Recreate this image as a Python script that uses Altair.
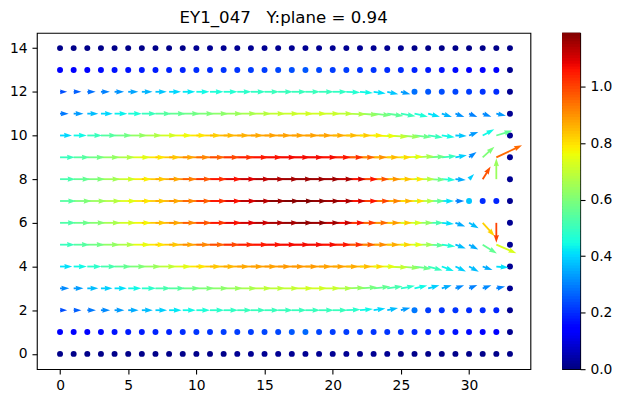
import math
import altair as alt
import pandas as pd

TITLE = "EY1_047\u00a0\u00a0\u00a0Y:plane = 0.94"
X_COLS = list(range(34))
Y_ROWS = list(range(15))

# colour magnitude per row (column 0..33)
c_y0 = [0.01, 0.01, 0.01, 0.01, 0.01, 0.01, 0.01, 0.01, 0.01, 0.01, 0.01, 0.01, 0.01, 0.02, 0.02, 0.02, 0.02, 0.02,
        0.02, 0.02, 0.02, 0.02, 0.02, 0.02, 0.02, 0.01, 0.01, 0.01, 0.01, 0.01, 0.01, 0.01, 0.01, 0.01]
c_y1 = [0.13, 0.14, 0.15, 0.16, 0.17, 0.18, 0.18, 0.19, 0.19, 0.20, 0.21, 0.21, 0.22, 0.22, 0.22, 0.23, 0.23, 0.25,
        0.27, 0.23, 0.22, 0.22, 0.22, 0.21, 0.21, 0.21, 0.20, 0.19, 0.18, 0.17, 0.16, 0.15, 0.14, 0.02]
c_y2 = [0.24, 0.26, 0.29, 0.31, 0.33, 0.35, 0.37, 0.39, 0.42, 0.44, 0.46, 0.48, 0.49, 0.50, 0.50, 0.50, 0.50, 0.50,
        0.50, 0.50, 0.50, 0.48, 0.44, 0.40, 0.37, 0.33, 0.29, 0.22, 0.21, 0.21, 0.20, 0.20, 0.19, 0.02]
c_y3 = [0.31, 0.33, 0.37, 0.39, 0.41, 0.44, 0.48, 0.52, 0.54, 0.58, 0.60, 0.62, 0.64, 0.66, 0.69, 0.69, 0.70, 0.72,
        0.72, 0.71, 0.67, 0.63, 0.59, 0.56, 0.52, 0.48, 0.44, 0.39, 0.35, 0.31, 0.30, 0.31, 0.30, 0.02]
c_y4 = [0.41, 0.44, 0.48, 0.52, 0.56, 0.60, 0.64, 0.69, 0.74, 0.79, 0.83, 0.85, 0.87, 0.88, 0.88, 0.89, 0.89, 0.89,
        0.88, 0.88, 0.87, 0.85, 0.81, 0.75, 0.70, 0.63, 0.57, 0.50, 0.43, 0.39, 0.37, 0.35, 0.41, 0.02]
c_y5 = [0.50, 0.54, 0.58, 0.63, 0.67, 0.75, 0.79, 0.83, 0.87, 0.91, 0.95, 0.99, 1.03, 1.05, 1.06, 1.07, 1.07, 1.07,
        1.07, 1.06, 1.03, 0.97, 0.91, 0.87, 0.82, 0.75, 0.65, 0.55, 0.46, 0.37, 0.35, 0.56, 0.73, 0.02]
c_y6 = [0.53, 0.57, 0.61, 0.66, 0.72, 0.77, 0.83, 0.87, 0.91, 0.97, 1.01, 1.06, 1.09, 1.11, 1.14, 1.15, 1.17, 1.18,
        1.16, 1.12, 1.07, 1.01, 0.95, 0.89, 0.83, 0.73, 0.63, 0.52, 0.41, 0.35, 0.37, 0.82, 1.00, 0.02]
c_y7 = [0.54, 0.60, 0.64, 0.68, 0.74, 0.79, 0.83, 0.87, 0.91, 0.96, 1.02, 1.06, 1.10, 1.13, 1.16, 1.18, 1.19, 1.18,
        1.17, 1.15, 1.11, 1.06, 1.00, 0.92, 0.86, 0.80, 0.68, 0.56, 0.41, 0.30, 0.38, 0.20, 0.19, 0.02]
c_y8 = [0.52, 0.56, 0.60, 0.65, 0.71, 0.78, 0.83, 0.87, 0.92, 0.97, 1.02, 1.06, 1.09, 1.12, 1.14, 1.15, 1.16, 1.16,
        1.16, 1.15, 1.11, 1.06, 0.98, 0.90, 0.84, 0.79, 0.68, 0.58, 0.46, 0.35, 0.39, 0.98, 0.64, 0.02]
c_y9 = [0.50, 0.54, 0.58, 0.63, 0.67, 0.74, 0.79, 0.83, 0.87, 0.91, 0.95, 0.99, 1.02, 1.05, 1.06, 1.07, 1.07, 1.07,
        1.07, 1.06, 1.03, 0.96, 0.90, 0.85, 0.81, 0.75, 0.66, 0.58, 0.50, 0.39, 0.31, 0.60, 0.95, 0.02]
c_y10 = [0.40, 0.44, 0.50, 0.54, 0.58, 0.63, 0.67, 0.72, 0.76, 0.79, 0.82, 0.85, 0.86, 0.87, 0.88, 0.88, 0.88, 0.88,
         0.88, 0.87, 0.85, 0.83, 0.79, 0.76, 0.70, 0.64, 0.57, 0.50, 0.44, 0.38, 0.33, 0.44, 0.56, 0.02]
c_y11 = [0.29, 0.33, 0.37, 0.40, 0.43, 0.46, 0.50, 0.54, 0.56, 0.58, 0.60, 0.62, 0.64, 0.66, 0.68, 0.70, 0.71, 0.72,
         0.72, 0.71, 0.69, 0.67, 0.63, 0.59, 0.55, 0.50, 0.46, 0.41, 0.36, 0.32, 0.30, 0.31, 0.33, 0.02]
c_y12 = [0.24, 0.26, 0.28, 0.30, 0.32, 0.34, 0.36, 0.38, 0.40, 0.42, 0.44, 0.46, 0.47, 0.48, 0.49, 0.50, 0.50, 0.50,
         0.50, 0.50, 0.49, 0.47, 0.44, 0.41, 0.38, 0.33, 0.28, 0.25, 0.24, 0.23, 0.22, 0.21, 0.20, 0.02]
c_y13 = [0.13, 0.14, 0.15, 0.16, 0.17, 0.17, 0.18, 0.18, 0.19, 0.19, 0.20, 0.20, 0.21, 0.21, 0.22, 0.22, 0.23, 0.24,
         0.25, 0.23, 0.22, 0.22, 0.21, 0.21, 0.20, 0.20, 0.19, 0.18, 0.17, 0.16, 0.15, 0.14, 0.13, 0.02]
c_y14 = [0.01, 0.01, 0.01, 0.01, 0.01, 0.01, 0.01, 0.01, 0.01, 0.01, 0.02, 0.02, 0.02, 0.02, 0.02, 0.02, 0.02, 0.02,
         0.02, 0.02, 0.02, 0.02, 0.02, 0.02, 0.02, 0.02, 0.01, 0.01, 0.01, 0.01, 0.01, 0.01, 0.01, 0.01]

# in-plane direction in degrees (counter-clockwise from +x) per row
a_zero = [0, 0, 0, 0, 0, 0, 0, 0, 0, 0, 0, 0, 0, 0, 0, 0, 0, 0, 0, 0, 0, 0, 0, 0, 0, 0, 0, 0, 0, 0, 0, 0, 0, 0]
a_y2 = [0, 0, 0, 0, 0, 0, 0, 0, 0, 0, 0, 0, 0, 0, 0, 0, 0, 0, 0, 0, 0, 3, 5, 8, 12, 15, 0, 0, 0, 0, 0, 0, 0, 0]
a_y3 = [0, 0, 0, 0, 0, 0, 0, 0, 0, 0, 0, 0, 0, 0, 0, 0, 0, 0, 0, 0, 0, 2, 4, 6, 8, 10, 13, 15, 18, 20, 22, 20, 12, 0]
a_y4 = [0, 0, 0, 0, 0, 0, 0, 0, 0, 0, 0, 0, 0, 0, 0, 0, 0, 0, 0, 0, 0, 0, 0, 0, -3, -5, -8, -15, -20, -25, -28, -20, -5, 0]
a_y5 = [0, 0, 0, 0, 0, 0, 0, 0, 0, 0, 0, 0, 0, 0, 0, 0, 0, 0, 0, 0, 0, 0, 0, 0, 0, 0, 0, -3, -8, -20, -28, -32, -23, 0]
a_y6 = [0, 0, 0, 0, 0, 0, 0, 0, 0, 0, 0, 0, 0, 0, 0, 0, 0, 0, 0, 0, 0, 0, 0, 0, 0, 0, 0, 0, -5, -20, -30, -48, -90, 0]
a_y8 = [0, 0, 0, 0, 0, 0, 0, 0, 0, 0, 0, 0, 0, 0, 0, 0, 0, 0, 0, 0, 0, 0, 0, 0, 0, 0, 0, -2, -3, -5, 45, 58, 90, 0]
a_y9 = [0, 0, 0, 0, 0, 0, 0, 0, 0, 0, 0, 0, 0, 0, 0, 0, 0, 0, 0, 0, 0, 0, 0, 0, 0, 2, 3, 3, 5, 10, 36, 42, 25, 0]
a_y10 = [0, 0, 0, 0, 0, 0, 0, 0, 0, 0, 0, 0, 0, 0, 0, 0, 0, 0, 0, 0, 0, 0, 0, -2, -4, -5, -6, -8, -8, -3, 20, 28, 17, 0]
a_y11 = [0, 0, 0, 0, 0, 0, 0, 0, 0, 0, 0, 0, 0, 0, 0, 0, 0, 0, 0, 0, 0, -2, -4, -6, -8, -10, -13, -15, -18, -20, -22, -20, -12, 0]
a_y12 = [0, 0, 0, 0, 0, 0, 0, 0, 0, 0, 0, 0, 0, 0, 0, 0, 0, 0, 0, 0, 0, -3, -5, -8, -12, -15, 0, 0, 0, 0, 0, 0, 0, 0]

# first column drawn as a dot (no in-plane vector) in each row
dot_from = [0, 0, 26, 33, 33, 33, 33, 30, 33, 33, 33, 33, 26, 0, 0]
# in-plane speed where it differs from the colour magnitude: (row, col, speed)
speed_fix = [(8, 30, 0.24), (8, 31, 0.50), (8, 32, 0.70), (9, 31, 0.53), (6, 31, 0.60), (6, 32, 0.67)]

C_ROWS = [c_y0, c_y1, c_y2, c_y3, c_y4, c_y5, c_y6, c_y7, c_y8, c_y9, c_y10, c_y11, c_y12, c_y13, c_y14]
A_ROWS = [a_zero, a_zero, a_y2, a_y3, a_y4, a_y5, a_y6, a_zero, a_y8, a_y9, a_y10, a_y11, a_y12, a_zero, a_zero]

CMAX = 1.19
CB_TICKS = [0.0, 0.2, 0.4, 0.6, 0.8, 1.0]
X_TICKS = [0, 5, 10, 15, 20, 25, 30]
Y_TICKS = [0, 2, 4, 6, 8, 10, 12, 14]

# ---- layout / styling ----
W, H = 496, 338
X_DOM = [-1.7, 34.5]
Y_DOM = [-0.7, 14.7]
PX_X = W / (X_DOM[1] - X_DOM[0])
PX_Y = H / (Y_DOM[1] - Y_DOM[0])
PX_PER_SPEED = 30.0
SHAFT_W = 1.8
HEAD_LEN = 8.0
HEAD_AXIS = 0.9
HEAD_PATH = "M0,0L-1,-0.33L-0.9,0L-1,0.33Z"
FONT = "DejaVu Sans"

fix = {(r, c): s for r, c, s in speed_fix}
dots, arrows = [], []
for j in Y_ROWS:
    for i in X_COLS:
        cval = C_ROWS[j][i]
        if i >= dot_from[j]:
            dots.append({"x": i, "y": j, "c": cval})
            continue
        s = fix.get((j, i), cval)
        L = s * PX_PER_SPEED
        th = math.radians(A_ROWS[j][i])
        f = min(1.0, L / HEAD_LEN)
        hl = HEAD_LEN * f
        shaft = max(0.0, L - HEAD_AXIS * hl + 0.5)
        arrows.append({
            "x": i, "y": j, "c": cval,
            "xs": i + shaft * math.cos(th) / PX_X,
            "ys": j + shaft * math.sin(th) / PX_Y,
            "xt": i + L * math.cos(th) / PX_X,
            "yt": j + L * math.sin(th) / PX_Y,
            "sw": SHAFT_W * f,
            "hsize": 4 * hl * hl,
            "ang": (-A_ROWS[j][i]) % 360,
        })

df_dots = pd.DataFrame(dots)
df_arr = pd.DataFrame(arrows)

# jet colour map stops
JET_T = [0.0, 0.11, 0.125, 0.34, 0.35, 0.375, 0.64, 0.65, 0.66, 0.89, 0.91, 1.0]
JET_C = ["#000080", "#0000ff", "#0000ff", "#00dbff", "#00e5f7", "#14ffe2",
         "#eeff08", "#f7f500", "#ffec00", "#ff1300", "#e80000", "#800000"]
jet = alt.Scale(domain=[t * CMAX for t in JET_T], range=JET_C, interpolate="rgb", clamp=True)

xs = alt.Scale(domain=X_DOM, nice=False, zero=False)
ys = alt.Scale(domain=Y_DOM, nice=False, zero=False)
xax = alt.Axis(values=X_TICKS, title=None, grid=False, domain=False)
yax = alt.Axis(values=Y_TICKS, title=None, grid=False, domain=False)

dot_layer = alt.Chart(df_dots).mark_point(shape="circle", filled=True, size=36, opacity=1, strokeWidth=0).encode(
    x=alt.X("x:Q", scale=xs, axis=xax),
    y=alt.Y("y:Q", scale=ys, axis=yax),
    color=alt.Color("c:Q", scale=jet, legend=None),
)
shaft_layer = alt.Chart(df_arr).mark_rule(opacity=1, strokeCap="butt").encode(
    x=alt.X("x:Q", scale=xs, axis=xax),
    y=alt.Y("y:Q", scale=ys, axis=yax),
    x2="xs:Q",
    y2="ys:Q",
    strokeWidth=alt.StrokeWidth("sw:Q", scale=None),
    color=alt.Color("c:Q", scale=jet, legend=None),
)
head_layer = alt.Chart(df_arr).mark_point(shape=HEAD_PATH, filled=True, opacity=1, strokeWidth=0).encode(
    x=alt.X("xt:Q", scale=xs, axis=xax),
    y=alt.Y("yt:Q", scale=ys, axis=yax),
    size=alt.Size("hsize:Q", scale=None),
    angle=alt.Angle("ang:Q", scale=None),
    color=alt.Color("c:Q", scale=jet, legend=None),
)

main = alt.layer(dot_layer, shaft_layer, head_layer).properties(
    width=W, height=H,
    title=alt.TitleParams(TITLE, fontSize=16.7, font=FONT, fontWeight="normal", anchor="middle",
                          frame="group", baseline="bottom", offset=-11, color="black"),
)

N_CB = 120
step = CMAX / N_CB
df_cb = pd.DataFrame({
    "lo": [k * step for k in range(N_CB)],
    "hi": [min(CMAX, (k + 2) * step) for k in range(N_CB)],
    "mid": [(k + 0.5) * step for k in range(N_CB)],
})
cbar = alt.Chart(df_cb).mark_rect(strokeWidth=0).encode(
    y=alt.Y("lo:Q", scale=alt.Scale(domain=[0, CMAX], nice=False, zero=True),
            axis=alt.Axis(orient="right", values=CB_TICKS, format=".1f", title=None, grid=False, domain=False)),
    y2="hi:Q",
    color=alt.Color("mid:Q", scale=jet, legend=None),
).properties(width=18, height=H)

chart = alt.hconcat(main, cbar, spacing=30).resolve_scale(
    x="independent", y="independent", color="shared"
).properties(
    padding={"left": 0, "top": 0, "right": 0, "bottom": 0}
).configure_axis(
    labelFont=FONT, labelFontSize=13.9, labelColor="black", tickColor="black",
    tickWidth=1.1, tickSize=4.9, labelPadding=4.9, grid=False,
).configure_view(stroke="black", strokeWidth=1.1)

chart.save("out.html", embed_options={"renderer": "svg", "actions": False})
